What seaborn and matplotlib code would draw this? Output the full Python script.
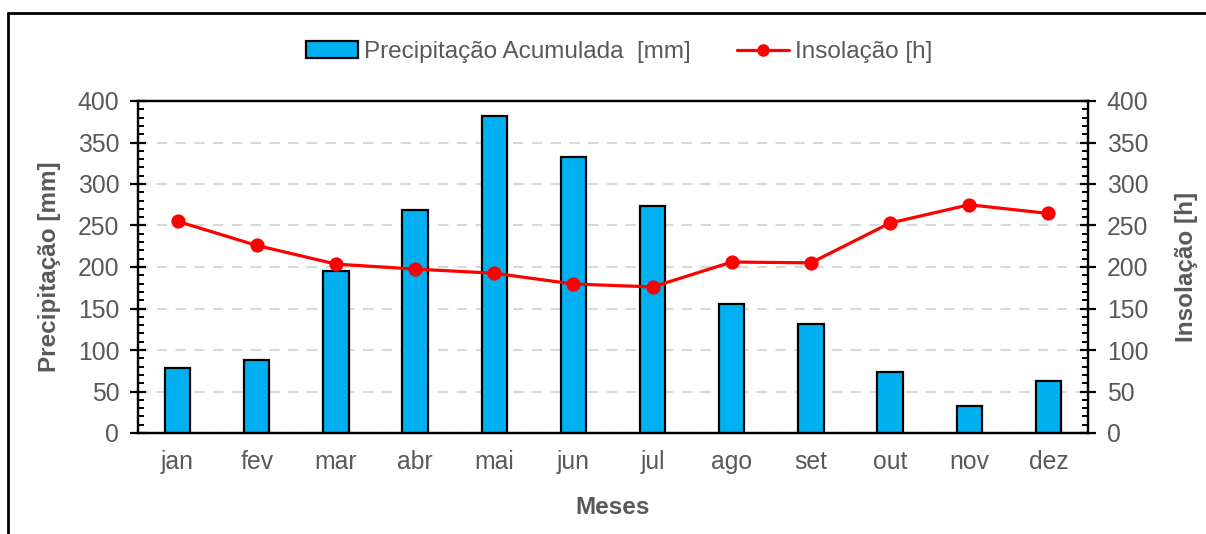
import matplotlib
matplotlib.use("Agg")
import matplotlib.pyplot as plt
from matplotlib.patches import Patch
from matplotlib.lines import Line2D
from matplotlib.ticker import MultipleLocator
import seaborn as sns
import pandas as pd

meses = ["jan", "fev", "mar", "abr", "mai", "jun", "jul", "ago", "set", "out", "nov", "dez"]
precipitacao = [78.5, 88.5, 195, 269, 382, 332, 274, 155, 131, 73.5, 32, 63]
insolacao = [255, 226, 203.5, 197.5, 192.5, 179.5, 176, 206, 205, 253, 275, 264.5]

df = pd.DataFrame({"mes": meses, "precipitacao": precipitacao, "insolacao": insolacao})

sns.set_theme(style="white")
plt.rcParams["font.family"] = ["Liberation Sans", "DejaVu Sans"]

cinza = "#595959"
azul = "#00B0F0"
vermelho = "#FF0000"
fs = 17.8
fs_leg = 17.5
fs_lab = 17.5

W, H = 1206, 534
fig = plt.figure(figsize=(W / 100, H / 100), dpi=100)
ax = fig.add_axes([138 / W, 1 - 433 / H, (1088 - 138) / W, (433 - 101) / H])

sns.barplot(data=df, x="mes", y="precipitacao", ax=ax, color=azul, width=0.32,
            edgecolor="black", linewidth=1.6, saturation=1, zorder=3)

ax2 = ax.twinx()
sns.pointplot(data=df, x="mes", y="insolacao", ax=ax2, color=vermelho,
              markers="o", markersize=8.5, linewidth=2.3, errorbar=None)

for a in (ax, ax2):
    a.set_ylim(0, 400)
    a.yaxis.set_major_locator(MultipleLocator(50))
    a.yaxis.set_minor_locator(MultipleLocator(10))
    for s in a.spines.values():
        s.set_color("black")
        s.set_linewidth(1.6)
    a.tick_params(axis="y", which="major", direction="inout", length=11, width=1.6,
                  color="black", labelsize=fs, labelcolor=cinza, pad=8)
    a.tick_params(axis="y", which="minor", direction="in", length=4.5, width=1.4,
                  color="black")
    a.set_facecolor("none")

ax.tick_params(axis="y", left=True, which="both")
ax2.tick_params(axis="y", right=True, which="both")
ax.tick_params(axis="x", length=0, labelsize=fs, labelcolor=cinza, pad=12)
ax.set_xlim(-0.5, 11.5)
ax2.set_xlim(-0.5, 11.5)

ax.yaxis.grid(True, which="major", color="#D9D9D9", linestyle=(0, (5, 4)), linewidth=1.5, zorder=0)
ax.set_axisbelow(True)

ax.set_xlabel("Meses", fontsize=fs_lab, fontweight="bold", color=cinza, labelpad=16)
ax.set_ylabel("Precipitação [mm]", fontsize=fs_lab, fontweight="bold", color=cinza, labelpad=12)
ax2.set_ylabel("Insolação [h]", fontsize=fs_lab, fontweight="bold", color=cinza, labelpad=19,
               rotation=90)

handles = [
    Patch(facecolor=azul, edgecolor="black", linewidth=1.6),
    Line2D([], [], color=vermelho, linewidth=2.3, marker="o", markersize=8),
]
labels = ["Precipitação Acumulada  [mm]", "Insolação [h]"]
fig.legend(handles, labels, loc="center", bbox_to_anchor=(619 / W, 1 - 52 / H), ncol=2,
           frameon=False, fontsize=fs_leg, labelcolor=cinza, handlelength=2.15,
           handletextpad=0.25, columnspacing=1.9, handleheight=0.65)

# moldura da figura
fig.add_artist(Line2D([8 / W, 8 / W], [0, 1 - 13 / H], color="black", linewidth=2,
                      transform=fig.transFigure))
fig.add_artist(Line2D([8 / W, 1], [1 - 13 / H, 1 - 13 / H], color="black", linewidth=2,
                      transform=fig.transFigure))

fig.savefig("out.png", dpi=100)
